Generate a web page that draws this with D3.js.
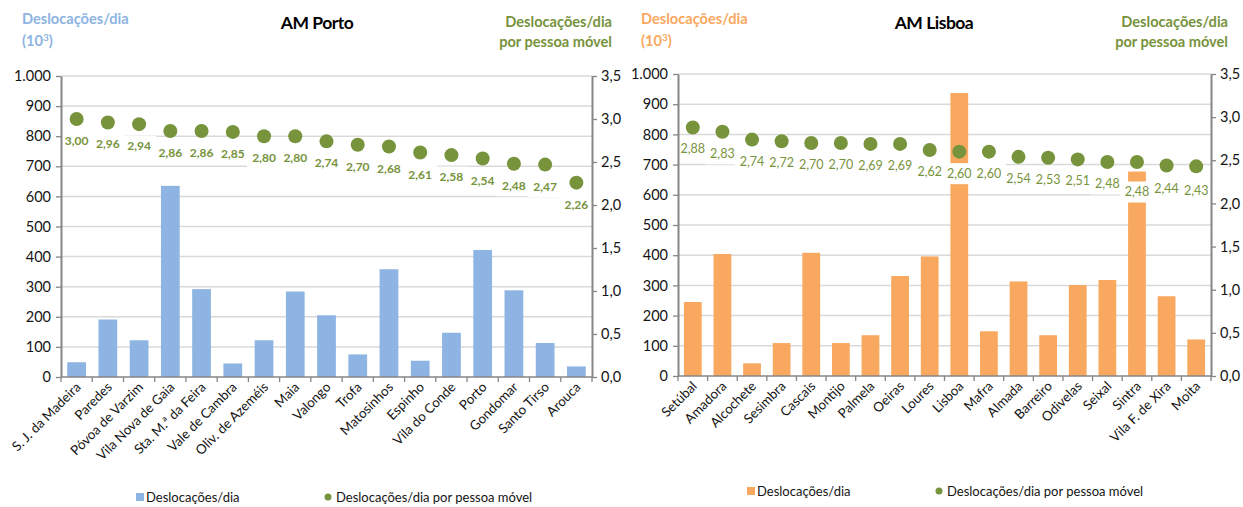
<!DOCTYPE html>
<html>
<head>
<meta charset="utf-8">
<script src="https://cdn.jsdelivr.net/npm/d3@7"></script>
<style>
  body { margin: 0; background: #fff; }
  svg { display: block; }
  text { font-family: Lato, "Open Sans", "DejaVu Sans", sans-serif; }
</style>
</head>
<body>
<svg id="chart" width="1243" height="507"></svg>
<script>
// ---- Data ----
const portoCategories = ["S. J. da Madeira", "Paredes", "Póvoa de Varzim", "Vila Nova de Gaia",
  "Sta. M.ª da Feira", "Vale de Cambra", "Oliv. de Azeméis", "Maia", "Valongo", "Trofa",
  "Matosinhos", "Espinho", "Vila do Conde", "Porto", "Gondomar", "Santo Tirso", "Arouca"];
const portoTrips = [49, 191, 122, 635, 292, 45, 122, 284, 205, 75, 358, 54, 147, 422, 288, 113, 35];
const portoTripsPerPerson = [3.00, 2.96, 2.94, 2.86, 2.86, 2.85, 2.80, 2.80, 2.74, 2.70, 2.68,
  2.61, 2.58, 2.54, 2.48, 2.47, 2.26];

const lisboaCategories = ["Setúbal", "Amadora", "Alcochete", "Sesimbra", "Cascais", "Montijo",
  "Palmela", "Oeiras", "Loures", "Lisboa", "Mafra", "Almada", "Barreiro", "Odivelas", "Seixal",
  "Sintra", "Vila F. de Xira", "Moita"];
const lisboaTrips = [245, 404, 42, 109, 408, 109, 135, 331, 396, 937, 148, 313, 135, 301, 318, 677, 264, 121];
const lisboaTripsPerPerson = [2.88, 2.83, 2.74, 2.72, 2.70, 2.70, 2.69, 2.69, 2.62, 2.60, 2.60,
  2.54, 2.53, 2.51, 2.48, 2.48, 2.44, 2.43];

const tripTicks = [0, 100, 200, 300, 400, 500, 600, 700, 800, 900, 1000];
const perPersonTicks = [0, 0.5, 1.0, 1.5, 2.0, 2.5, 3.0, 3.5];

const seriesBarName = "Deslocações/dia";
const seriesDotName = "Deslocações/dia por pessoa móvel";

// ---- Formatting (Portuguese number style) ----
const pt = d3.formatLocale({ decimal: ",", thousands: ".", grouping: [3], currency: ["", " €"] });
const fmtTrips = pt.format(",.0f");
const fmtAxis2 = pt.format(".1f");
const fmtLabel = pt.format(".2f");

const GREEN = "#77933c";
const AXIS = "#868686";
const GRID = "#d9d9d9";
const INK = "#141414";

const svg = d3.select("#chart");

function drawPanel(cfg) {
  const g = svg.append("g");
  const n = cfg.categories.length;

  const x = d3.scaleBand().domain(cfg.categories)
    .range([cfg.left, cfg.right]).paddingInner(0.4).paddingOuter(0.2);
  const y = d3.scaleLinear().domain([0, 1000]).range([cfg.zero, cfg.top]);
  const y2 = d3.scaleLinear().domain([0, 3.5]).range([cfg.zero, cfg.top]);
  const cx = c => x(c) + x.bandwidth() / 2;

  // gridlines
  g.append("g").selectAll("line").data(tripTicks.filter(t => t > 0)).join("line")
    .attr("x1", cfg.left).attr("x2", cfg.right)
    .attr("y1", d => y(d)).attr("y2", d => y(d))
    .attr("stroke", GRID).attr("stroke-width", 1.5);

  // bars
  g.append("g").selectAll("rect").data(cfg.trips).join("rect")
    .attr("x", (d, i) => x(cfg.categories[i]))
    .attr("width", x.bandwidth())
    .attr("y", d => y(d))
    .attr("height", d => y(0) - y(d))
    .attr("fill", cfg.barColor);

  // data labels on white boxes below each dot
  const labels = g.append("g");
  cfg.perPerson.forEach((v, i) => {
    const cat = cfg.categories[i];
    const px = cx(cat);
    const py = y2(v) + 22 + (cfg.labelNudge[cat] || 0);
    labels.append("rect")
      .attr("x", px - 17).attr("y", py - 10.5)
      .attr("width", 34).attr("height", 21)
      .attr("fill", "#fff");
    labels.append("text")
      .attr("x", px).attr("y", py + 4)
      .attr("text-anchor", "middle")
      .attr("font-size", cfg.labelSize)
      .attr("font-weight", cfg.labelWeight)
      .attr("fill", GREEN)
      .text(fmtLabel(v));
  });

  // dots
  g.append("g").selectAll("circle").data(cfg.perPerson).join("circle")
    .attr("cx", (d, i) => cx(cfg.categories[i]))
    .attr("cy", d => y2(d))
    .attr("r", 7)
    .attr("fill", GREEN);

  // value axes
  const ax = g.append("g").attr("transform", `translate(${cfg.left},0)`)
    .call(d3.axisLeft(y).tickValues(tripTicks).tickFormat(fmtTrips).tickSize(5).tickSizeOuter(0).tickPadding(5));
  const ax2 = g.append("g").attr("transform", `translate(${cfg.right},0)`)
    .call(d3.axisRight(y2).tickValues(perPersonTicks).tickFormat(fmtAxis2).tickSize(5).tickSizeOuter(0).tickPadding(4));
  [ax, ax2].forEach(a => {
    a.select(".domain").attr("stroke", AXIS).attr("stroke-width", 2);
    a.selectAll(".tick line").attr("stroke", AXIS).attr("stroke-width", 1.3);
    a.selectAll(".tick text").attr("fill", INK).attr("font-size", 14.5)
      .style("font-family", "Lato, 'Open Sans', sans-serif");
  });

  // category axis: baseline, tick marks between categories, rotated labels
  g.append("line").attr("x1", cfg.left).attr("x2", cfg.right)
    .attr("y1", cfg.zero).attr("y2", cfg.zero)
    .attr("stroke", AXIS).attr("stroke-width", 1.5);
  const bounds = d3.range(n + 1).map(i => cfg.left + i * x.step());
  g.append("g").selectAll("line").data(bounds).join("line")
    .attr("x1", d => d).attr("x2", d => d)
    .attr("y1", cfg.zero).attr("y2", cfg.zero + 5)
    .attr("stroke", AXIS).attr("stroke-width", 1.3);
  g.append("g").selectAll("text").data(cfg.categories).join("text")
    .attr("transform", d => `translate(${cx(d) + 5},${cfg.zero + 11}) rotate(-45)`)
    .attr("text-anchor", "end")
    .attr("font-size", 13.3)
    .attr("fill", INK)
    .text(d => d);

  // titles
  g.append("text").attr("x", cfg.titleX).attr("y", 29)
    .attr("text-anchor", "middle").attr("font-size", 17.5).attr("font-weight", 700)
    .attr("fill", "#000").attr("letter-spacing", -0.5).text(cfg.title);

  const lt = g.append("text").attr("font-size", 14.6).attr("font-weight", 700).attr("fill", cfg.barColor);
  lt.append("tspan").attr("x", cfg.leftTitleX).attr("y", 24).text("Deslocações/dia");
  const l2 = lt.append("tspan").attr("x", cfg.leftTitleX).attr("y", 46).text("(10");
  l2.append("tspan").attr("font-size", 10).attr("dy", -5).text("3");
  l2.append("tspan").attr("dy", 5).text(")");

  const rt = g.append("text").attr("font-size", 14.6).attr("font-weight", 700)
    .attr("fill", GREEN).attr("text-anchor", "end");
  rt.append("tspan").attr("x", cfg.rightTitleX).attr("y", 27).text("Deslocações/dia");
  rt.append("tspan").attr("x", cfg.rightTitleX).attr("y", 47).text("por pessoa móvel");

  // legend
  const lg = g.append("g").attr("transform", `translate(0,${cfg.legendY})`);
  lg.append("rect").attr("x", cfg.legendX).attr("y", -4).attr("width", 8).attr("height", 8).attr("fill", cfg.barColor);
  lg.append("text").attr("x", cfg.legendX + 10).attr("y", 5).attr("font-size", 13)
    .attr("fill", INK).text(seriesBarName);
  lg.append("circle").attr("cx", cfg.legendX + 192).attr("cy", 0).attr("r", 3.5).attr("fill", GREEN);
  lg.append("text").attr("x", cfg.legendX + 200).attr("y", 5).attr("font-size", 13)
    .attr("fill", INK).text(seriesDotName);
}

drawPanel({
  categories: portoCategories, trips: portoTrips, perPerson: portoTripsPerPerson,
  left: 61, right: 592, top: 76, zero: 377,
  barColor: "#8db4e2", labelWeight: 700, labelSize: 12,
  title: "AM Porto", titleX: 317, leftTitleX: 22, rightTitleX: 612,
  legendX: 136, legendY: 497, labelNudge: {}
});

drawPanel({
  categories: lisboaCategories, trips: lisboaTrips, perPerson: lisboaTripsPerPerson,
  left: 678, right: 1211, top: 74, zero: 376,
  barColor: "#f9a85f", labelWeight: 400, labelSize: 12.5,
  title: "AM Lisboa", titleX: 934, leftTitleX: 641, rightTitleX: 1228,
  legendX: 747, legendY: 491, labelNudge: { "Sintra": 8, "Vila F. de Xira": 2, "Moita": 3 }
});
</script>
</body>
</html>
